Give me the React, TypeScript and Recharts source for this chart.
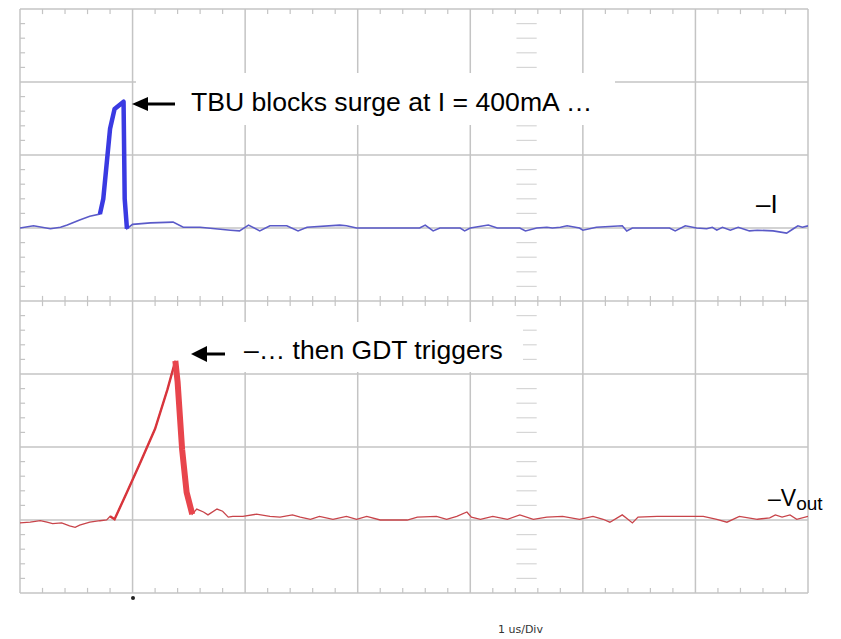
import React from "react";
import { LineChart, Line, XAxis, YAxis, CartesianGrid, ReferenceLine } from "recharts";

// scope capture: 1 us/div horizontally, level in divisions (0 = screen centre)
const iTime = [
  0, 0.12, 0.27, 0.36, 0.42, 0.53, 0.62, 0.71, 0.74, 0.8, 0.84, 0.92, 0.93, 0.95, 1.0, 1.16, 1.36, 1.45,
  1.6, 1.87, 1.95, 2.03, 2.13, 2.22, 2.37, 2.47, 2.55, 2.84, 2.9, 2.99, 3.55, 3.6, 3.67, 3.73, 3.91, 3.95,
  4.0, 4.16, 4.24, 4.44, 4.49, 4.59, 4.68, 4.73, 4.8, 4.86, 4.97, 5.0, 5.12, 5.35, 5.39, 5.44, 5.77, 5.82,
  5.91, 6.01, 6.1, 6.15, 6.19, 6.24, 6.31, 6.38, 6.48, 6.55, 6.69, 6.81, 6.87, 6.91, 6.95, 7.0,
];
const iLevel = [
  1.0, 1.03, 0.99, 1.01, 1.04, 1.11, 1.16, 1.19, 1.4, 2.36, 2.63, 2.73, 1.4, 0.99, 1.05, 1.07, 1.08, 1.01,
  1.01, 0.97, 0.96, 1.04, 0.96, 1.03, 1.03, 0.96, 1.01, 1.04, 1.03, 1.0, 1.0, 1.04, 0.96, 1.0, 1.0, 0.96,
  1.0, 1.04, 1.0, 1.0, 0.96, 1.0, 1.01, 1.0, 1.01, 1.03, 1.0, 0.97, 1.01, 1.03, 0.96, 1.0, 1.0, 0.96,
  1.03, 1.0, 0.99, 1.01, 0.97, 1.01, 0.97, 1.01, 0.96, 0.97, 0.96, 0.93, 0.99, 1.03, 1.01, 1.03,
];

const vTime = [
  0, 0.09, 0.18, 0.24, 0.29, 0.37, 0.44, 0.49, 0.53, 0.62, 0.71, 0.77, 0.8, 0.84, 0.95, 1.07, 1.2, 1.31,
  1.38, 1.4, 1.44, 1.48, 1.53, 1.57, 1.63, 1.67, 1.75, 1.8, 1.85, 1.89, 1.98, 2.1, 2.22, 2.31, 2.42, 2.49,
  2.58, 2.66, 2.78, 2.9, 2.99, 3.08, 3.2, 3.44, 3.53, 3.7, 3.79, 3.88, 3.97, 4.01, 4.09, 4.2, 4.33, 4.44,
  4.56, 4.68, 4.82, 4.97, 5.09, 5.18, 5.24, 5.35, 5.4, 5.44, 5.49, 5.66, 5.83, 6.07, 6.19, 6.28, 6.39,
  6.55, 6.66, 6.71, 6.77, 6.84, 6.9, 7.0,
];
const vLevel = [
  -3.04, -3.03, -3.01, -3.03, -3.05, -3.04, -3.08, -3.1, -3.07, -3.03, -3.01, -3.0, -2.95, -2.99, -2.62,
  -2.21, -1.75, -1.21, -0.82, -1.11, -2.03, -2.62, -2.92, -2.85, -2.89, -2.93, -2.85, -2.88, -2.96, -2.95,
  -2.95, -2.92, -2.95, -2.96, -2.93, -2.96, -2.99, -2.95, -2.99, -2.95, -2.99, -2.95, -3.0, -3.0, -2.96,
  -2.95, -2.99, -2.95, -2.89, -2.96, -2.99, -2.95, -2.99, -2.93, -2.99, -2.96, -2.95, -2.99, -2.95, -2.99,
  -3.03, -2.93, -2.99, -3.04, -2.96, -2.95, -2.95, -2.95, -2.99, -3.03, -2.95, -2.99, -2.97, -2.93, -2.96,
  -2.93, -2.99, -2.95,
];

const xDivs = [0, 1, 2, 3, 4, 5, 6, 7];
const yDivs = [-4, -3, -2, -1, 0, 1, 2, 3, 4];

const iData = iTime.map((t, k) => ({ t, v: iLevel[k] }));
const vData = vTime.map((t, k) => ({ t, v: vLevel[k] }));
const iSpike = iData.filter((d) => d.t >= 0.71 && d.t <= 0.95);
const vRise = vData.filter((d) => d.t >= 0.8 && d.t <= 1.38);
const vFall = vData.filter((d) => d.t >= 1.38 && d.t <= 1.53);

// minor graticule ticks, 5 per division
const xMinor: number[] = [];
for (let k = 1; k < 35; k++) if (k % 5) xMinor.push(k / 5);
const yMinor: number[] = [];
for (let k = -19; k < 20; k++) if (k % 5) yMinor.push(k / 5);

const W = 841;
const H = 639;
const tickCol = "#c4c4c4";
const font = "'Liberation Sans', Arial, sans-serif";

export default function App() {
  const seg = (x1: number, y1: number, x2: number, y2: number, key: string, color = tickCol) => (
    <ReferenceLine
      key={key}
      segment={[
        { x: x1, y: y1 },
        { x: x2, y: y2 },
      ]}
      stroke={color}
      strokeWidth={1.2}
      ifOverflow="visible"
    />
  );

  return (
    <div style={{ position: "absolute", left: 0, top: 0, width: W, height: H, background: "#fff" }}>
      <LineChart width={W} height={H} margin={{ top: 9, right: 33, bottom: 46, left: 20 }}>
        <XAxis type="number" dataKey="t" domain={[0, 7]} ticks={xDivs} allowDataOverflow hide />
        <YAxis type="number" dataKey="v" domain={[-4, 4]} ticks={yDivs} allowDataOverflow hide />
        <CartesianGrid
          stroke="#c4c4c4"
          strokeWidth={1.5}
          verticalValues={xDivs}
          horizontalValues={yDivs}
        />
        {xMinor.map((x) => seg(x, 4, x, 3.93, "t" + x))}
        {xMinor.map((x) => seg(x, -4, x, -3.93, "b" + x))}
        {xMinor.map((x) => seg(x, -0.07, x, 0.07, "c" + x))}
        {yMinor.map((y) => seg(0, y, 0.045, y, "l" + y))}
        {yMinor.map((y) => seg(4.41, y, 4.59, y, "m" + y, "#d6d6d6"))}

        <Line data={iData} dataKey="v" type="linear" stroke="#5a5ac8" strokeWidth={1.6} dot={false} isAnimationActive={false} />
        <Line data={iSpike} dataKey="v" type="linear" stroke="#3a3ae2" strokeWidth={4.5} strokeLinejoin="round" dot={false} isAnimationActive={false} />
        <Line data={vData} dataKey="v" type="linear" stroke="#c8444a" strokeWidth={1.3} dot={false} isAnimationActive={false} />
        <Line data={vRise} dataKey="v" type="linear" stroke="#d8353c" strokeWidth={2.4} dot={false} isAnimationActive={false} />
        <Line data={vFall} dataKey="v" type="linear" stroke="#e8454c" strokeWidth={6} strokeLinejoin="round" dot={false} isAnimationActive={false} />
      </LineChart>

      <svg width={W} height={H} style={{ position: "absolute", left: 0, top: 0, pointerEvents: "none" }}>
        <rect x={136} y={73} width={479} height={52} fill="#fff" />
        <polygon points="132,104 148,97 148,111" fill="#000" />
        <line x1={147} y1={104} x2={175} y2={104} stroke="#000" strokeWidth={3} />
        <text x={191} y={111} fontFamily={font} fontSize={26.6} fill="#000">
          TBU blocks surge at I = 400mA …
        </text>

        <rect x={225} y={322} width={298} height={50} fill="#fff" />
        <polygon points="191,354 207,346 207,362" fill="#000" />
        <line x1={206} y1={354} x2={225} y2={354} stroke="#000" strokeWidth={3} />
        <text x={244} y={359} fontFamily={font} fontSize={26.5} fill="#000">
          –… then GDT triggers
        </text>

        <text x={756} y={213} fontFamily={font} fontSize={26} fill="#000">
          –I
        </text>
        <text x={768} y={506} fontFamily={font} fontSize={23} fill="#000">
          –V
          <tspan fontSize={19} dy={4}>
            out
          </tspan>
        </text>

        <circle cx={133} cy={598} r={2} fill="#222" />
        <text x={498} y={633} fontFamily="'DejaVu Sans', Verdana, sans-serif" fontSize={11} fill="#333">
          1 us/Div
        </text>
      </svg>
    </div>
  );
}
